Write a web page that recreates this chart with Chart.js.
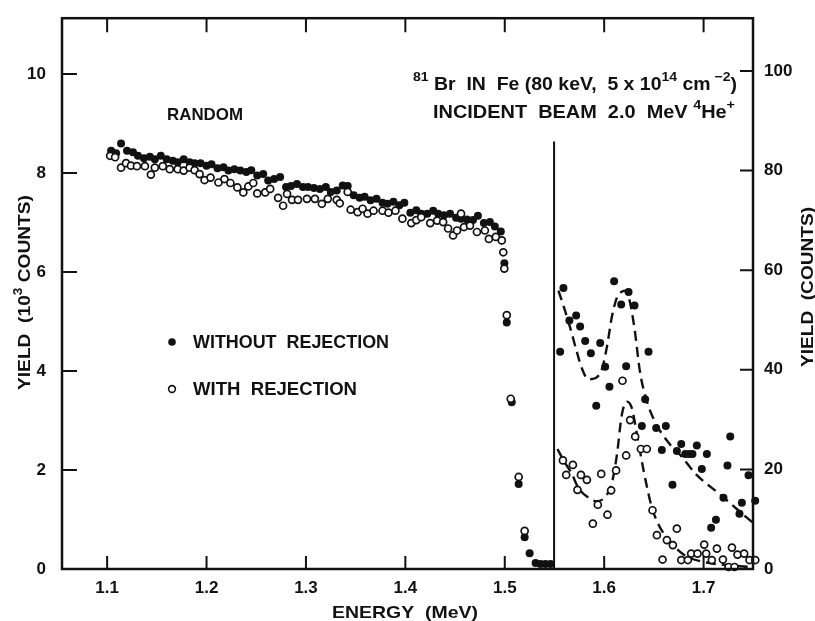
<!DOCTYPE html>
<html>
<head>
<meta charset="utf-8">
<script src="https://cdn.jsdelivr.net/npm/chart.js@4.4.1/dist/chart.umd.min.js"></script>
<style>
  html, body { margin: 0; padding: 0; background: #fff; }
  #wrap { width: 815px; height: 621px; position: relative; }
</style>
</head>
<body>
<div id="wrap"><canvas id="rbs-chart"></canvas></div>
<script>
// ---- data ----
// random spectrum (left axis, 10^3 counts)
const randomWithoutE = [
  1.104, 1.109, 1.114, 1.120, 1.126, 1.131, 1.137, 1.143, 1.148, 1.154,
  1.160, 1.166, 1.171, 1.177, 1.183, 1.188, 1.194, 1.200, 1.205, 1.211,
  1.217, 1.222, 1.228, 1.234, 1.240, 1.245, 1.251, 1.257, 1.262, 1.268,
  1.274, 1.280, 1.285, 1.291, 1.297, 1.302, 1.308, 1.314, 1.320, 1.325,
  1.331, 1.337, 1.342, 1.348, 1.354, 1.359, 1.365, 1.371, 1.377, 1.382,
  1.388, 1.394, 1.399, 1.405, 1.411, 1.416, 1.422, 1.428, 1.433, 1.439,
  1.445, 1.451, 1.456, 1.462, 1.468, 1.473, 1.479, 1.485, 1.490, 1.496,
  1.4996, 1.502, 1.507, 1.514, 1.520, 1.525, 1.531, 1.536, 1.541, 1.546,
];
const randomWithoutY = [
  8.45, 8.40, 8.60, 8.45, 8.42, 8.35, 8.30, 8.33, 8.28, 8.35,
  8.28, 8.25, 8.22, 8.28, 8.22, 8.20, 8.20, 8.15, 8.18, 8.10,
  8.12, 8.05, 8.08, 8.05, 8.02, 8.06, 7.95, 7.98, 7.85, 7.88,
  7.92, 7.72, 7.74, 7.78, 7.72, 7.72, 7.70, 7.68, 7.72, 7.62,
  7.65, 7.75, 7.74, 7.55, 7.50, 7.52, 7.45, 7.48, 7.40, 7.38,
  7.42, 7.35, 7.40, 7.20, 7.25, 7.18, 7.18, 7.24, 7.18, 7.15,
  7.18, 7.10, 7.08, 7.06, 7.05, 7.14, 6.99, 7.01, 6.92, 6.82,
  6.18, 4.98, 3.37, 1.72, 0.64, 0.32, 0.12, 0.10, 0.10, 0.10,
];
const randomWithE = [
  1.103, 1.108, 1.114, 1.119, 1.124, 1.130, 1.138, 1.144, 1.148, 1.156,
  1.163, 1.171, 1.177, 1.183, 1.188, 1.193, 1.198, 1.204, 1.212, 1.218,
  1.224, 1.231, 1.237, 1.242, 1.247, 1.251, 1.259, 1.264, 1.272, 1.277,
  1.281, 1.286, 1.292, 1.301, 1.309, 1.316, 1.322, 1.331, 1.334, 1.342,
  1.345, 1.352, 1.357, 1.362, 1.368, 1.377, 1.383, 1.390, 1.397, 1.406,
  1.411, 1.416, 1.425, 1.432, 1.438, 1.443, 1.448, 1.452, 1.456, 1.459,
  1.465, 1.472, 1.480, 1.484, 1.491, 1.497, 1.4985, 1.4995, 1.502, 1.506,
  1.514, 1.520,
];
const randomWithY = [
  8.35, 8.32, 8.11, 8.20, 8.15, 8.14, 8.14, 7.97, 8.11, 8.14,
  8.08, 8.08, 8.05, 8.11, 8.06, 7.98, 7.86, 7.91, 7.81, 7.88,
  7.80, 7.71, 7.61, 7.73, 7.80, 7.59, 7.61, 7.68, 7.50, 7.34,
  7.58, 7.46, 7.46, 7.48, 7.48, 7.38, 7.48, 7.46, 7.39, 7.62,
  7.26, 7.21, 7.28, 7.18, 7.24, 7.24, 7.20, 7.24, 7.08, 6.99,
  7.05, 7.11, 6.99, 7.04, 7.01, 6.88, 6.74, 6.84, 7.18, 6.91,
  6.94, 6.81, 6.84, 6.67, 6.71, 6.64, 6.40, 6.07, 5.13, 3.44,
  1.86, 0.77,
];

// Br peak region (right axis, counts)
const brWithoutE = [
  1.5557, 1.559, 1.565, 1.5718, 1.5758, 1.5809, 1.5866, 1.592, 1.596, 1.601,
  1.6053, 1.610, 1.6171, 1.6221, 1.6245, 1.6305, 1.6379, 1.6412, 1.6446, 1.6523,
  1.658, 1.662, 1.6687, 1.6731, 1.6775, 1.6815, 1.6855, 1.6888, 1.6932, 1.6982,
  1.7033, 1.7076, 1.7124, 1.720, 1.724, 1.7268, 1.7361, 1.7385, 1.7452, 1.7519,
];
const brWithoutY = [
  43.6, 56.4, 49.9, 50.9, 48.7, 45.8, 43.3, 32.8, 45.4, 40.6,
  36.6, 57.8, 53.1, 40.7, 55.6, 52.9, 28.7, 34.1, 43.6, 28.3,
  23.9, 28.7, 16.9, 23.7, 25.1, 23.1, 23.1, 23.1, 24.8, 20.1,
  23.1, 8.3, 9.9, 14.3, 20.8, 26.6, 11.1, 13.3, 18.8, 13.7,
];
const brWithE = [
  1.5585, 1.5618, 1.5685, 1.5731, 1.5766, 1.5826, 1.5886, 1.5936, 1.597, 1.6033,
  1.607, 1.612, 1.6184, 1.6221, 1.6261, 1.6312, 1.6369, 1.6429, 1.6486, 1.653,
  1.6587, 1.6631, 1.6691, 1.6731, 1.6775, 1.6842, 1.6875, 1.6939, 1.7006, 1.7026,
  1.7083, 1.7134, 1.7194, 1.7251, 1.7285, 1.7311, 1.7341, 1.7408, 1.7462, 1.752,
];
const brWithY = [
  21.8, 18.9, 20.9, 15.9, 18.9, 17.9, 9.1, 12.9, 19.1, 10.9,
  15.8, 19.8, 37.8, 22.8, 29.9, 26.6, 24.1, 24.1, 11.8, 6.8,
  1.9, 5.8, 4.8, 8.1, 1.8, 1.8, 3.1, 3.1, 4.9, 3.1,
  1.8, 4.1, 1.9, 0.4, 4.3, 0.4, 2.9, 3.1, 1.8, 1.8,
];

// dashed fitted curves (right axis, counts)
const fitWithoutE = [
  1.554, 1.559, 1.566, 1.5725, 1.5775, 1.584, 1.591, 1.598, 1.603, 1.608,
  1.613, 1.618, 1.622, 1.626, 1.6305, 1.636, 1.642, 1.651, 1.665, 1.6765,
  1.693, 1.717, 1.740, 1.752,
];
const fitWithoutY = [
  55.9, 52.9, 48.3, 43.6, 40.3, 38.1, 38.3, 40.3, 44.9, 50.9,
  54.6, 55.7, 55.9, 53.5, 48.3, 39.6, 34.3, 29.6, 25.3, 22.9,
  18.9, 14.9, 10.9, 8.9,
];
const fitWithE = [
  1.553, 1.560, 1.567, 1.574, 1.583, 1.5926, 1.6027, 1.608, 1.6128, 1.6177,
  1.6228, 1.6278, 1.633, 1.6379, 1.643, 1.648, 1.655, 1.663, 1.6798, 1.7033,
  1.7234, 1.740, 1.750,
];
const fitWithY = [
  24.1, 21.5, 19.3, 16.3, 14.5, 13.6, 14.9, 17.5, 22.9, 30.9,
  33.6, 32.3, 27.0, 21.6, 16.5, 12.3, 8.8, 6.3, 2.9, 1.3,
  0.8, 0.5, 0.4,
];

// scale split marker (left axis)
const splitE = [1.5496, 1.5496];
const splitY = [0, 8.64];

const xTicks = [1.1, 1.2, 1.3, 1.4, 1.5, 1.6, 1.7];
const yLeftTicks = [0, 2, 4, 6, 8, 10];
const yRightTicks = [0, 20, 40, 60, 80, 100];

// ---- styling ----
const ink = '#111';
const family = "'Liberation Sans', Arial, sans-serif";
const weight = '600';

function pts(xs, ys) {
  return xs.map((x, i) => ({ x, y: ys[i] }));
}

// draws text with superscripts, squeezed/stretched to a given width
function drawRich(ctx, parts, x, y, width, size) {
  const supSize = Math.round(size * 0.7);
  ctx.save();
  let total = 0;
  parts.forEach(([t, sup]) => {
    ctx.font = `${weight} ${sup ? supSize : size}px ${family}`;
    total += ctx.measureText(t).width;
  });
  ctx.translate(x, y);
  ctx.scale(width / total, 1);
  ctx.fillStyle = ink;
  ctx.textBaseline = 'alphabetic';
  ctx.textAlign = 'left';
  let cx = 0;
  parts.forEach(([t, sup]) => {
    ctx.font = `${weight} ${sup ? supSize : size}px ${family}`;
    ctx.fillText(t, cx, sup ? -size * 0.5 : 0);
    cx += ctx.measureText(t).width;
  });
  ctx.restore();
}

const decorations = {
  id: 'decorations',
  beforeDraw(chart) {
    const { ctx } = chart;
    ctx.save();
    ctx.fillStyle = '#fff';
    ctx.fillRect(0, 0, chart.width, chart.height);
    ctx.restore();
  },
  afterDraw(chart) {
    const { ctx, chartArea: a } = chart;
    const { x, y, y2 } = chart.scales;
    ctx.save();
    ctx.strokeStyle = ink;
    ctx.lineWidth = 2.5;
    ctx.strokeRect(a.left, a.top, a.right - a.left, a.bottom - a.top);

    // inward ticks
    ctx.lineWidth = 2;
    ctx.beginPath();
    xTicks.forEach((v) => {
      const px = x.getPixelForValue(v);
      ctx.moveTo(px, a.bottom); ctx.lineTo(px, a.bottom - 13);
      ctx.moveTo(px, a.top); ctx.lineTo(px, a.top + 14);
    });
    yLeftTicks.slice(1).forEach((v) => {
      const py = y.getPixelForValue(v);
      ctx.moveTo(a.left, py); ctx.lineTo(a.left + 15, py);
    });
    yRightTicks.slice(1).forEach((v) => {
      const py = y2.getPixelForValue(v);
      ctx.moveTo(a.right, py); ctx.lineTo(a.right - 13, py);
    });
    ctx.stroke();

    // annotations
    drawRich(ctx, [['81', true], [' Br  IN  Fe (80 keV,  5 x 10', false], ['14', true],
      [' cm', false], [' \u22122', true], [')', false]], 413, 90, 324, 18);
    drawRich(ctx, [['INCIDENT  BEAM  2.0  MeV ', false], ['4', true], ['He', false], ['+', true]],
      433, 118, 302, 18);
    drawRich(ctx, [['RANDOM', false]], 167, 120, 76, 17);

    // legend
    ctx.fillStyle = ink;
    ctx.beginPath();
    ctx.arc(172, 342, 3.8, 0, Math.PI * 2);
    ctx.fill();
    ctx.lineWidth = 1.6;
    ctx.beginPath();
    ctx.arc(172, 389, 3.4, 0, Math.PI * 2);
    ctx.stroke();
    drawRich(ctx, [['WITHOUT  REJECTION', false]], 193, 348, 196, 18);
    drawRich(ctx, [['WITH  REJECTION', false]], 193, 395, 164, 18);

    // axis titles
    drawRich(ctx, [['ENERGY  (MeV)', false]], 332, 618, 146, 17);
    ctx.save();
    ctx.translate(30, 390);
    ctx.rotate(-Math.PI / 2);
    drawRich(ctx, [['YIELD  (10', false], ['3', true], [' COUNTS)', false]], 0, 0, 195, 17);
    ctx.restore();
    ctx.save();
    ctx.translate(813, 367);
    ctx.rotate(-Math.PI / 2);
    drawRich(ctx, [['YIELD  (COUNTS)', false]], 0, 0, 160, 17);
    ctx.restore();
    ctx.restore();
  },
};

const tickFont = { size: 17, family, weight };

const config = {
  type: 'scatter',
  data: {
    datasets: [
      {
        data: pts(randomWithE, randomWithY),
        yAxisID: 'y',
        pointRadius: 3.5,
        pointBorderWidth: 1.7,
        pointBackgroundColor: '#fff',
        pointBorderColor: ink,
        order: 0,
        clip: false,
      },
      {
        data: pts(brWithE, brWithY),
        yAxisID: 'y2',
        pointRadius: 3.5,
        pointBorderWidth: 1.7,
        pointBackgroundColor: '#fff',
        pointBorderColor: ink,
        order: 0,
        clip: false,
      },
      {
        data: pts(randomWithoutE, randomWithoutY),
        yAxisID: 'y',
        pointRadius: 4,
        pointBorderWidth: 0,
        pointBackgroundColor: ink,
        order: 1,
        clip: false,
      },
      {
        data: pts(brWithoutE, brWithoutY),
        yAxisID: 'y2',
        pointRadius: 4,
        pointBorderWidth: 0,
        pointBackgroundColor: ink,
        order: 1,
        clip: false,
      },
      {
        data: pts(fitWithoutE, fitWithoutY),
        yAxisID: 'y2',
        showLine: true,
        pointRadius: 0,
        borderColor: ink,
        borderWidth: 2.4,
        borderDash: [10, 6],
        cubicInterpolationMode: 'monotone',
        order: 2,
        clip: false,
      },
      {
        data: pts(fitWithE, fitWithY),
        yAxisID: 'y2',
        showLine: true,
        pointRadius: 0,
        borderColor: ink,
        borderWidth: 2.4,
        borderDash: [10, 6],
        cubicInterpolationMode: 'monotone',
        order: 2,
        clip: false,
      },
      {
        data: pts(splitE, splitY),
        yAxisID: 'y',
        showLine: true,
        pointRadius: 0,
        borderColor: ink,
        borderWidth: 2,
        order: 2,
      },
    ],
  },
  options: {
    animation: false,
    responsive: true,
    maintainAspectRatio: false,
    events: [],
    layout: { padding: { top: 16, left: 0, right: 0, bottom: 0 } },
    plugins: {
      legend: { display: false },
      tooltip: { enabled: false },
    },
    scales: {
      x: {
        type: 'linear',
        min: 1.0546,
        max: 1.7497,
        afterFit: (s) => { s.height = 52; },
        afterBuildTicks: (s) => { s.ticks = xTicks.map((value) => ({ value })); },
        grid: { display: false },
        border: { display: false },
        ticks: {
          color: ink,
          font: tickFont,
          padding: 1,
          maxRotation: 0,
          autoSkip: false,
          callback: (v) => v.toFixed(1),
        },
      },
      y: {
        position: 'left',
        min: 0,
        max: 11.13,
        afterFit: (s) => { s.width = 62; },
        afterBuildTicks: (s) => { s.ticks = yLeftTicks.map((value) => ({ value })); },
        grid: { display: false },
        border: { display: false },
        ticks: { color: ink, font: tickFont, padding: 8, callback: (v) => String(v) },
      },
      y2: {
        position: 'right',
        min: 0,
        max: 110.6,
        afterFit: (s) => { s.width = 62; },
        afterBuildTicks: (s) => { s.ticks = yRightTicks.map((value) => ({ value })); },
        grid: { display: false },
        border: { display: false },
        ticks: { color: ink, font: tickFont, padding: 3, callback: (v) => String(v) },
      },
    },
  },
  plugins: [decorations],
};

new Chart(document.getElementById('rbs-chart'), config);
</script>
</body>
</html>
